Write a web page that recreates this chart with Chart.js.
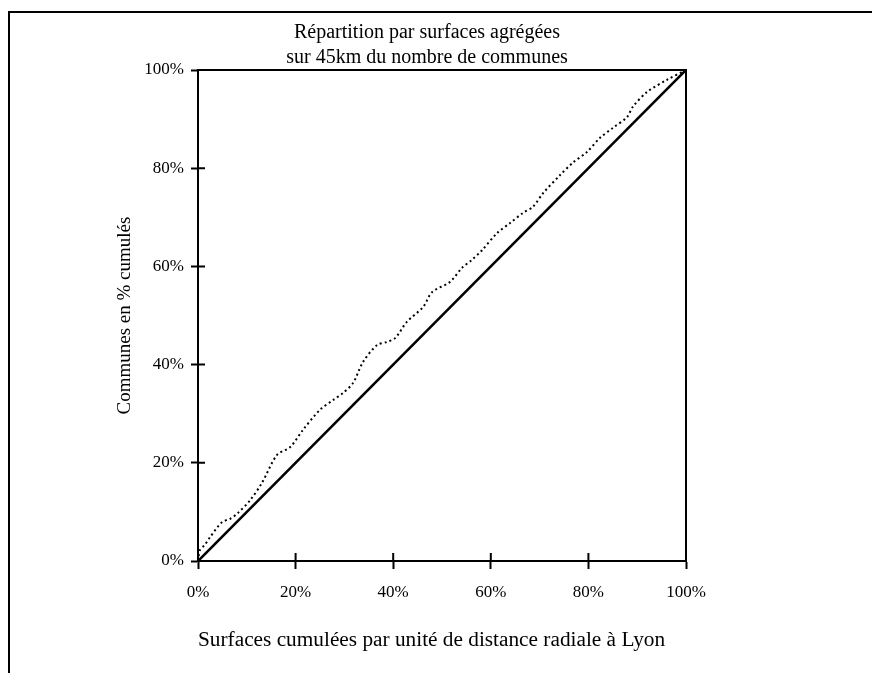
<!DOCTYPE html>
<html>
<head>
<meta charset="utf-8">
<script src="https://cdn.jsdelivr.net/npm/chart.js@4"></script>
<style>
html,body{margin:0;padding:0;background:#fff;}
#wrap{width:872px;height:673px;position:relative;}
</style>
</head>
<body>
<div id="wrap"><canvas id="c" width="872" height="673"></canvas></div>
<script>
// Data
const titleLines = ["Répartition par surfaces agrégées", "sur 45km du nombre de communes"];
const xTitle = "Surfaces cumulées par unité de distance radiale à Lyon";
const yTitle = "Communes en % cumulés";
const tickValues = [0, 20, 40, 60, 80, 100];

const refX = [0, 100];
const refY = [0, 100];

const communesX = [0, 0.4, 1.4, 2.5, 4.9, 6.6, 8.2, 10.7, 13.1, 16.2, 18.9, 21.5, 25, 27.7, 29.7, 31.8, 33.8, 36.7, 38.7, 40.4, 42.8, 46.1, 48, 51.6, 54.1, 56.1, 58.2, 61.3, 63.9, 66.6, 68.6, 70.7, 74.2, 76.8, 79.7, 82.4, 85, 87.9, 89.1, 92, 96.1, 100];
const communesY = [0, 2.2, 3.3, 4.9, 7.9, 8.6, 9.8, 12.4, 15.9, 21.6, 23.2, 26.7, 30.8, 32.8, 34.2, 36.3, 40.5, 44, 44.6, 45.4, 48.7, 51.7, 54.8, 56.8, 59.7, 61.3, 63.3, 66.8, 68.8, 70.9, 72.1, 74.9, 78.6, 81.1, 83.3, 86.2, 88.2, 90.4, 92.5, 95.5, 98, 100];

const toXY = (xs, ys) => xs.map((x, i) => ({x: x, y: ys[i]}));

const FONT = "'Liberation Serif', 'Times New Roman', serif";

const framePlugin = {
  id: 'frame',
  afterDraw(chart) {
    const ctx = chart.ctx;
    const a = chart.chartArea;
    ctx.save();
    ctx.strokeStyle = '#000';
    ctx.lineWidth = 2;
    ctx.beginPath();
    ctx.moveTo(872, 12);
    ctx.lineTo(9, 12);
    ctx.lineTo(9, 673);
    ctx.stroke();
    ctx.lineWidth = 2;
    ctx.strokeRect(a.left, a.top, a.right - a.left, a.bottom - a.top);
    const xs = chart.scales.x, ys = chart.scales.y;
    ctx.beginPath();
    tickValues.forEach(v => {
      const px = xs.getPixelForValue(v);
      ctx.moveTo(px, a.bottom);
      ctx.lineTo(px, a.bottom - 8);
      const py = ys.getPixelForValue(v);
      ctx.moveTo(a.left, py);
      ctx.lineTo(a.left + 7, py);
    });
    ctx.stroke();
    ctx.restore();
  }
};

new Chart(document.getElementById('c'), {
  type: 'line',
  data: {
    datasets: [
      {
        label: 'Surfaces',
        data: toXY(refX, refY),
        borderColor: '#000',
        borderWidth: 2.6,
        pointRadius: 0,
        tension: 0
      },
      {
        label: 'Communes',
        data: toXY(communesX, communesY),
        borderColor: '#000',
        borderWidth: 2,
        borderDash: [2, 3],
        pointRadius: 0,
        tension: 0.3
      }
    ]
  },
  options: {
    responsive: false,
    animation: false,
    devicePixelRatio: 1,
    layout: {padding: {left: 0, right: 18, top: 0, bottom: 0}},
    plugins: {
      legend: {display: false},
      tooltip: {enabled: false},
      title: {
        display: true,
        text: titleLines,
        color: '#000',
        font: {family: FONT, size: 20, weight: 'normal', lineHeight: 25 / 20},
        padding: {top: 20, bottom: 0}
      }
    },
    scales: {
      x: {
        type: 'linear',
        min: 0, max: 100,
        afterFit(s) { s.height = 112; },
        afterBuildTicks(s) { s.ticks = tickValues.map(v => ({value: v})); },
        ticks: {
          color: '#000',
          font: {family: FONT, size: 17},
          padding: 13,
          maxRotation: 0,
          callback: v => v + '%'
        },
        grid: {drawOnChartArea: false, drawTicks: true, tickLength: 8, tickWidth: 2, color: '#000'},
        border: {display: true, color: '#000', width: 2},
        title: {
          display: true,
          text: xTitle,
          align: 'start',
          color: '#000',
          font: {family: FONT, size: 21.3},
          padding: {top: 0, bottom: 20}
        }
      },
      y: {
        type: 'linear',
        min: 0, max: 100,
        afterFit(s) { s.width = 198; },
        afterBuildTicks(s) { s.ticks = tickValues.map(v => ({value: v})); },
        ticks: {
          color: '#000',
          font: {family: FONT, size: 17},
          padding: 7,
          callback: v => v + '%'
        },
        grid: {drawOnChartArea: false, drawTicks: true, tickLength: 7, tickWidth: 2, color: '#000'},
        border: {display: true, color: '#000', width: 2},
        title: {
          display: true,
          text: yTitle,
          color: '#000',
          font: {family: FONT, size: 19},
          padding: {top: 114, bottom: 0}
        }
      },
      yRight: {
        type: 'linear',
        position: 'right',
        min: 0, max: 100,
        afterFit(s) { s.width = 168; },
        ticks: {display: false},
        grid: {display: false},
        border: {display: false}
      }
    }
  },
  plugins: [framePlugin]
});
</script>
</body>
</html>
